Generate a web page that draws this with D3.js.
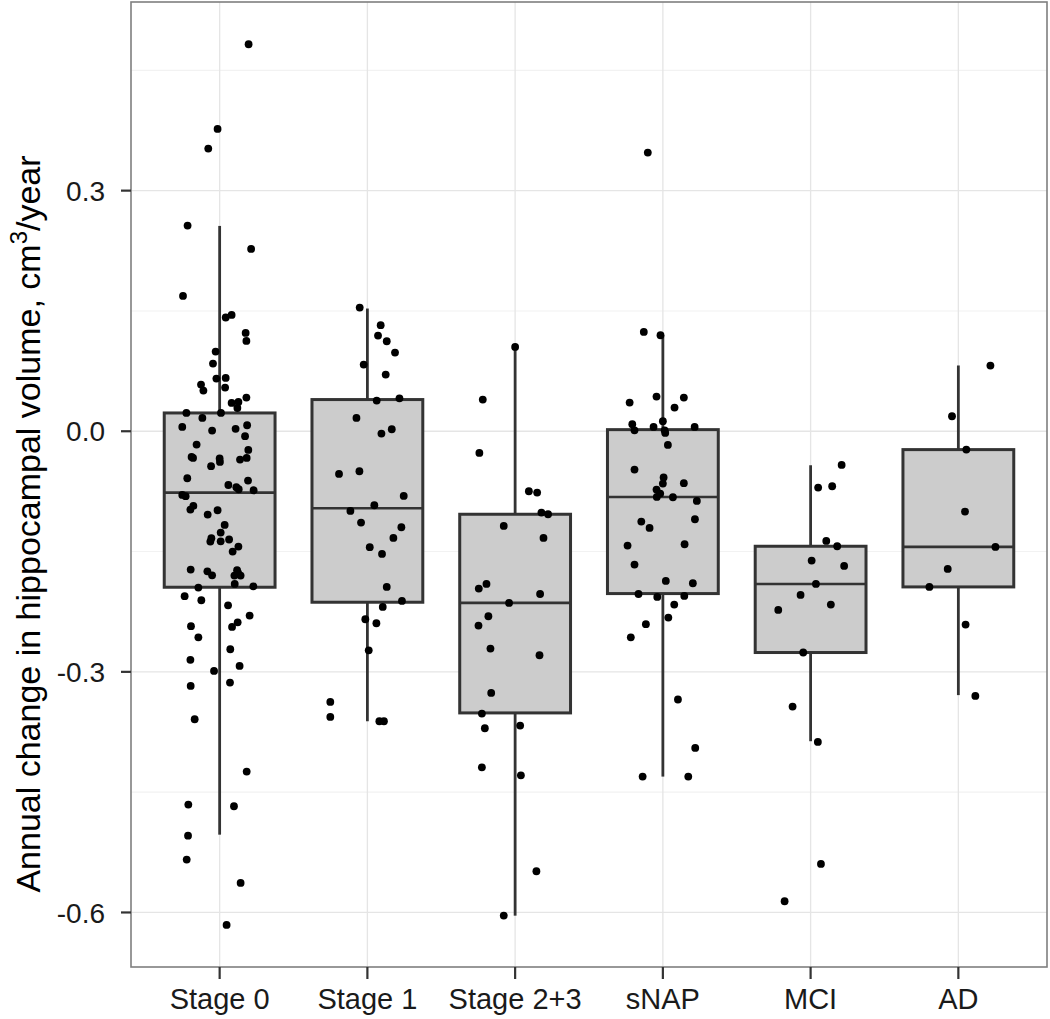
<!DOCTYPE html>
<html><head><meta charset="utf-8">
<script src="https://cdn.jsdelivr.net/npm/d3@7"></script>
<style>body{margin:0;background:#fff} text{font-family:"Liberation Sans",Arial,Helvetica,sans-serif}</style>
</head><body><svg id="c" width="1050" height="1019"></svg>
<script>
// ---- data ----
const categories = ["Stage 0","Stage 1","Stage 2+3","sNAP","MCI","AD"];
// [value, horizontal jitter in category units]
const stage0 = [[0.4825,0.196],[0.377,-0.014],[0.3525,-0.077],[0.2565,-0.217],[0.2273,0.213],[0.1687,-0.248],[0.1418,0.041],[0.145,0.081],[0.1226,0.176],[0.1126,0.181],[0.0993,-0.027],[0.0844,-0.045],[0.0657,-0.022],[0.0665,0.041],[0.0582,-0.126],[0.0507,-0.110],[0.0545,0.037],[0.042,0.181],[0.0353,0.081],[0.0366,0.127],[0.029,0.120],[0.0229,-0.225],[0.0229,0.009],[0.0166,-0.117],[0.0054,-0.253],[0.0008,-0.051],[0.003,0.108],[0.0075,0.186],[-0.0062,0.172],[-0.0166,-0.156],[-0.032,-0.190],[-0.0333,-0.180],[-0.034,0.0],[-0.0383,0.002],[-0.0436,-0.058],[-0.0353,0.138],[-0.0333,0.183],[-0.0233,0.194],[-0.0586,-0.219],[-0.067,0.059],[-0.0698,0.113],[-0.0723,0.129],[-0.0615,0.192],[-0.0736,0.230],[-0.0794,-0.253],[-0.081,-0.230],[-0.0931,-0.178],[-0.0977,-0.198],[-0.1039,-0.081],[-0.0985,-0.014],[-0.1168,0.034],[-0.1264,0.007],[-0.1334,-0.056],[-0.1376,-0.063],[-0.1372,0.007],[-0.135,0.064],[-0.1438,0.127],[-0.15,0.088],[-0.1725,-0.196],[-0.1746,-0.083],[-0.1796,-0.051],[-0.1733,0.118],[-0.18,0.100],[-0.18,0.142],[-0.1767,0.125],[-0.1904,0.102],[-0.1933,0.228],[-0.1949,-0.144],[-0.2057,-0.237],[-0.2107,-0.124],[-0.217,0.057],[-0.2298,0.203],[-0.2382,0.122],[-0.244,0.084],[-0.2431,-0.194],[-0.2569,-0.144],[-0.2718,0.072],[-0.285,-0.198],[-0.2988,-0.038],[-0.2926,0.135],[-0.3175,-0.196],[-0.3134,0.070],[-0.3591,-0.169],[-0.4243,0.183],[-0.4655,-0.212],[-0.4676,0.097],[-0.5042,-0.214],[-0.534,-0.223],[-0.5632,0.142],[-0.6156,0.047]];
const stage1 = [[0.1542,-0.052],[0.1322,0.090],[0.1193,0.072],[0.1122,0.131],[0.0981,0.187],[0.0831,-0.025],[0.0707,0.124],[0.0382,0.063],[0.0411,0.217],[0.0166,-0.074],[-0.0029,0.095],[0.0025,0.165],[-0.0532,-0.192],[-0.0499,-0.054],[-0.0806,0.246],[-0.0923,0.047],[-0.0993,-0.115],[-0.1139,-0.043],[-0.1197,0.230],[-0.133,0.176],[-0.1446,0.016],[-0.153,0.099],[-0.1941,0.131],[-0.2116,0.234],[-0.2191,0.104],[-0.2344,-0.014],[-0.2394,0.061],[-0.2731,0.009],[-0.3375,-0.251],[-0.3562,-0.251],[-0.3616,0.081],[-0.3616,0.112]];
const stage23 = [[0.1051,0.0],[0.0395,-0.219],[-0.027,-0.242],[-0.0748,0.093],[-0.0765,0.149],[-0.1014,0.178],[-0.1035,0.223],[-0.118,-0.077],[-0.133,0.192],[-0.1904,-0.194],[-0.1962,-0.246],[-0.2029,0.169],[-0.214,-0.041],[-0.2307,-0.181],[-0.2423,-0.248],[-0.271,-0.167],[-0.2793,0.165],[-0.3263,-0.162],[-0.352,-0.225],[-0.3703,-0.205],[-0.367,0.034],[-0.419,-0.225],[-0.429,0.039],[-0.5486,0.144],[-0.6039,-0.077]];
const snap = [[0.3475,-0.102],[0.1238,-0.129],[0.1197,-0.016],[0.0358,-0.225],[0.0432,-0.043],[0.042,0.142],[0.0295,0.079],[0.0087,-0.207],[0.0012,-0.192],[0.0054,-0.063],[0.0125,0.0],[0.0012,0.012],[-0.0021,0.016],[0.0054,0.215],[-0.0171,0.034],[-0.0478,-0.192],[-0.0577,0.005],[-0.0652,0.0],[-0.0648,0.142],[-0.0727,-0.043],[-0.0777,-0.018],[-0.0819,-0.041],[-0.0823,0.068],[-0.0869,0.230],[-0.1126,-0.146],[-0.1205,-0.090],[-0.1097,0.217],[-0.1425,-0.239],[-0.1409,0.147],[-0.1662,-0.192],[-0.1866,0.020],[-0.1895,0.203],[-0.2029,-0.165],[-0.2066,-0.038],[-0.2053,0.145],[-0.2161,0.077],[-0.2323,0.037],[-0.2406,-0.115],[-0.2569,-0.217],[-0.3345,0.102],[-0.3949,0.219],[-0.4306,-0.137],[-0.4306,0.172]];
const mci = [[-0.042,0.210],[-0.0702,0.051],[-0.0686,0.146],[-0.1368,0.106],[-0.1434,0.180],[-0.1612,0.007],[-0.1679,0.227],[-0.1904,0.036],[-0.2041,-0.068],[-0.2161,0.137],[-0.2228,-0.219],[-0.2759,-0.050],[-0.3433,-0.122],[-0.3874,0.049],[-0.5395,0.070],[-0.586,-0.176]];
const ad = [[0.0819,0.217],[0.0187,-0.043],[-0.0229,0.054],[-0.1001,0.045],[-0.1442,0.251],[-0.1717,-0.072],[-0.1941,-0.196],[-0.241,0.049],[-0.33,0.115]];
const groups = [stage0, stage1, stage23, snap, mci, ad];
// box statistics per category
const whiskerHigh = [0.256, 0.153, 0.105, 0.1197, -0.0424, 0.082];
const q3 = [0.0228, 0.0395, -0.1035, 0.002, -0.1434, -0.0229];
const medians = [-0.0765, -0.096, -0.214, -0.0819, -0.1904, -0.1442];
const q1 = [-0.1945, -0.2132, -0.3512, -0.2024, -0.2759, -0.1941];
const whiskerLow = [-0.503, -0.3616, -0.604, -0.4306, -0.3865, -0.329];
const yTicks = [-0.6, -0.3, 0.0, 0.3];
const yTickLabels = ["-0.6", "-0.3", "0.0", "0.3"];
const yMinor = [-0.45, -0.15, 0.15, 0.45];
const yTitle = "Annual change in hippocampal volume, cm";

// ---- layout ----
const L = 131, R = 1047, T = 2, B = 967;
const svg = d3.select("#c");
const x = d3.scaleLinear().domain([0.4, 6.6]).range([L, R]);
const y = d3.scaleLinear().domain([-0.668, 0.5352]).range([B, T]);
const boxW = 0.375;

// grid
const g = svg.append("g");
g.selectAll(".ymin").data(yMinor).enter().append("line")
  .attr("x1", L).attr("x2", R).attr("y1", d => y(d)).attr("y2", d => y(d))
  .attr("stroke", "#f2f2f2").attr("stroke-width", 1.1);
g.selectAll(".ymaj").data(yTicks).enter().append("line")
  .attr("x1", L).attr("x2", R).attr("y1", d => y(d)).attr("y2", d => y(d))
  .attr("stroke", "#e5e5e5").attr("stroke-width", 1.3);
g.selectAll(".xmaj").data(categories).enter().append("line")
  .attr("x1", (d, i) => x(i + 1)).attr("x2", (d, i) => x(i + 1)).attr("y1", T).attr("y2", B)
  .attr("stroke", "#e5e5e5").attr("stroke-width", 1.3);

// boxes
const bx = svg.append("g");
categories.forEach((c, i) => {
  const cx = x(i + 1);
  bx.append("line").attr("x1", cx).attr("x2", cx).attr("y1", y(whiskerHigh[i])).attr("y2", y(q3[i]))
    .attr("stroke", "#333").attr("stroke-width", 2.8);
  bx.append("line").attr("x1", cx).attr("x2", cx).attr("y1", y(q1[i])).attr("y2", y(whiskerLow[i]))
    .attr("stroke", "#333").attr("stroke-width", 2.8);
  bx.append("rect").attr("x", x(i + 1 - boxW)).attr("width", x(i + 1 + boxW) - x(i + 1 - boxW))
    .attr("y", y(q3[i])).attr("height", y(q1[i]) - y(q3[i]))
    .attr("fill", "#cccccc").attr("stroke", "#333").attr("stroke-width", 3);
  bx.append("line").attr("x1", x(i + 1 - boxW)).attr("x2", x(i + 1 + boxW))
    .attr("y1", y(medians[i])).attr("y2", y(medians[i]))
    .attr("stroke", "#333").attr("stroke-width", 2.6);
});

// points
const pts = svg.append("g");
groups.forEach((arr, i) => {
  pts.selectAll(null).data(arr).enter().append("circle")
    .attr("cx", d => x(i + 1 + d[1])).attr("cy", d => y(d[0])).attr("r", 3.9).attr("fill", "#000");
});

// panel border
svg.append("rect").attr("x", L).attr("y", T).attr("width", R - L).attr("height", B - T)
  .attr("fill", "none").attr("stroke", "#7f7f7f").attr("stroke-width", 1.6);

// y axis
const ya = svg.append("g");
ya.selectAll("line").data(yTicks).enter().append("line")
  .attr("x1", L - 10).attr("x2", L).attr("y1", d => y(d)).attr("y2", d => y(d))
  .attr("stroke", "#333").attr("stroke-width", 2.2);
ya.selectAll("text").data(yTicks).enter().append("text")
  .attr("x", L - 26).attr("y", d => y(d)).attr("dy", "0.36em").attr("text-anchor", "end")
  .attr("font-size", 28).attr("fill", "#1a1a1a").text((d, i) => yTickLabels[i]);

// x axis
const xa = svg.append("g");
xa.selectAll("line").data(categories).enter().append("line")
  .attr("x1", (d, i) => x(i + 1)).attr("x2", (d, i) => x(i + 1)).attr("y1", B).attr("y2", B + 12)
  .attr("stroke", "#333").attr("stroke-width", 2.2);
xa.selectAll("text").data(categories).enter().append("text")
  .attr("x", (d, i) => x(i + 1)).attr("y", 1009).attr("text-anchor", "middle")
  .attr("font-size", 29).attr("fill", "#1a1a1a").text(d => d);

// y title
const t = svg.append("text").attr("transform", "translate(40,524) rotate(-90)")
  .attr("text-anchor", "middle").attr("font-size", 34).attr("fill", "#000");
t.append("tspan").text(yTitle);
t.append("tspan").attr("dy", -13).attr("font-size", 24).text("3");
t.append("tspan").attr("dy", 13).text("/year");
</script></body></html>
